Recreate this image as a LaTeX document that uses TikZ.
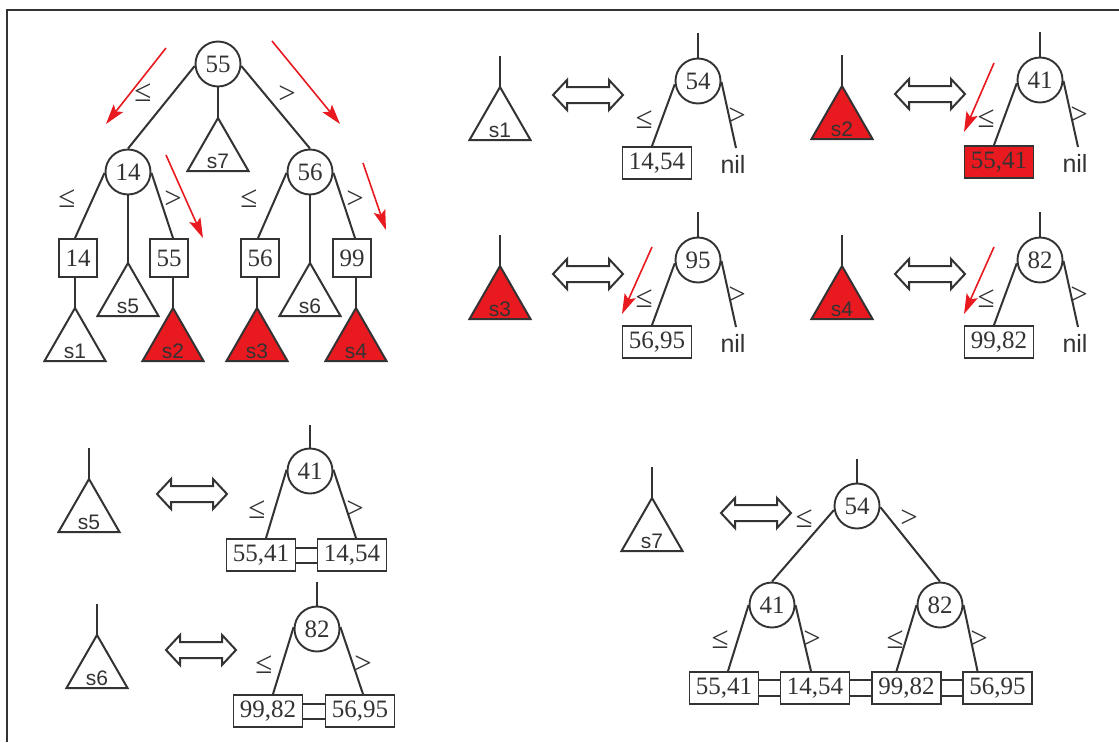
\documentclass[tikz,border=0pt]{standalone}
\usepackage{fontspec}
\setmainfont{Liberation Serif}
\newfontfamily\sansfam{Liberation Sans}
\usetikzlibrary{arrows.meta,calc}
\definecolor{dk}{HTML}{333333}
\definecolor{rd}{HTML}{E8191F}
\newcommand{\numfont}{\fontsize{25}{28}\selectfont}
\newcommand{\labfont}{\fontsize{31}{34}\selectfont}
\newcommand{\slabfont}{\sansfam\fontsize{21}{23}\selectfont}
\newcommand{\nilfont}{\sansfam\fontsize{25}{27}\selectfont}
\tikzset{
  ln/.style={draw=dk,line width=2pt},
  circ/.style={circle,draw=dk,line width=1.9pt,minimum size=45pt,inner sep=0pt,font=\numfont,text=dk},
  sbox/.style={rectangle,draw=dk,line width=1.9pt,minimum width=38pt,minimum height=38pt,inner sep=0pt,font=\numfont,text=dk},
  wbox/.style={rectangle,draw=dk,line width=1.9pt,minimum width=69pt,minimum height=32pt,inner sep=0pt,font=\numfont,text=dk},
  lab/.style={inner sep=0pt,font=\labfont,text=dk},
  nilnode/.style={inner sep=0pt,outer sep=0pt,anchor=north,font=\nilfont,text=dk},
  slab/.style={inner sep=0pt,anchor=base,font=\slabfont,text=dk},
  redarr/.style={draw=rd,line width=1.6pt,-{Stealth[length=20pt,width=12pt,inset=4pt]}},
  dblarrow/.pic={\draw[ln] (0,0) -- (14,-15) -- (14,-8) -- (56,-8) -- (56,-15) -- (70,0) -- (56,15) -- (56,8) -- (14,8) -- (14,15) -- cycle;}
}
% name, x, y (apex), label, fill
\newcommand{\subtree}[5]{%
  \coordinate (#1) at (#2,#3);
  \draw[ln,fill=#5] (#1) -- (#2-30.5,#3+53) -- (#2+30.5,#3+53) -- cycle;
  \node[slab] (#1-l) at (#2,#3+50) {#4};}
% prefix, dx, dy, sub label, tri fill, circle num, box text, box fill
\newcommand{\panel}[8]{%
  \coordinate (#1S1) at (500+#2,56+#3);
  \subtree{#1T}{500+#2}{87+#3}{#4}{#5}
  \draw[ln] (#1S1) -- (#1T);
  \pic (#1D) at (553+#2,95+#3) {dblarrow};
  \coordinate (#1S2) at (698+#2,33+#3);
  \node[circ] (#1C) at (698+#2,81+#3) {#6};
  \draw[ln] (#1S2) -- (#1C.north);
  \node[wbox,fill=#8] (#1B) at (657+#2,163+#3) {#7};
  \node[nilnode] (#1N) at (733+#2,155+#3) {nil};
  \draw[ln] (#1C.188) -- ([xshift=-5pt]#1B.north);
  \draw[ln] (#1C.-2) -- ([shift={(3pt,7pt)}]#1N.north);
  \node[lab] (#1L1) at (644+#2,120+#3) {≤};
  \node[lab] (#1L2) at (737+#2,117+#3) {>};}
\begin{document}
\begin{tikzpicture}[x=1pt,y=-1pt]
\useasboundingbox (0,0) rectangle (1119,742);
\fill[white] (0,0) rectangle (1119,742);
\draw[dk,line width=2.3pt] (7,742) -- (7,10) -- (1119,10);

% ---- main tree ----
\node[circ] (r55) at (218,64) {55};
\node[circ] (r14) at (128,172) {14};
\node[circ] (r56) at (310,172) {56};
\node[sbox] (b14) at (78,258) {14};
\node[sbox] (b55) at (169,258) {55};
\node[sbox] (b56) at (260,258) {56};
\node[sbox] (b99) at (352,258) {99};
\subtree{t7}{218}{118}{s7}{white}
\subtree{t5}{128}{263}{s5}{white}
\subtree{t6}{310}{263}{s6}{white}
\subtree{t1}{75}{308}{s1}{white}
\subtree{t2}{173}{308}{s2}{rd}
\subtree{t3}{257}{308}{s3}{rd}
\subtree{t4}{356}{308}{s4}{rd}
\draw[ln] (r55.185) -- (r14.north);
\draw[ln] (r55.-5) -- (r56.north);
\draw[ln] (r55.south) -- (t7);
\draw[ln] (r14.182) -- ([xshift=-3pt]b14.north);
\draw[ln] (r14.south) -- (t5);
\draw[ln] (r14.-2) -- ([xshift=4pt]b55.north);
\draw[ln] (r56.182) -- ([xshift=-2pt]b56.north);
\draw[ln] (r56.south) -- (t6);
\draw[ln] (r56.-2) -- ([xshift=3pt]b99.north);
\draw[ln] (b14.south -| t1) -- (t1);
\draw[ln] (b55.south -| t2) -- (t2);
\draw[ln] (b56.south -| t3) -- (t3);
\draw[ln] (b99.south -| t4) -- (t4);
\node[lab] (m1) at (143,93) {≤};
\node[lab] (m2) at (287,95) {>};
\node[lab] (m3) at (67,199) {≤};
\node[lab] (m4) at (173,200) {>};
\node[lab] (m5) at (249,199) {≤};
\node[lab] (m6) at (355,200) {>};
\coordinate (ra1) at (166,48);  \coordinate (rb1) at (106,124);
\coordinate (ra2) at (272,41);  \coordinate (rb2) at (340,124);
\coordinate (ra3) at (166,155); \coordinate (rb3) at (203,238);
\coordinate (ra4) at (363,163); \coordinate (rb4) at (386,230);
\draw[redarr] (ra1) -- (rb1);
\draw[redarr] (ra2) -- (rb2);
\draw[redarr] (ra3) -- (rb3);
\draw[redarr] (ra4) -- (rb4);

% ---- four small panels ----
\panel{pa}{0}{0}{s1}{white}{54}{14,54}{white}
\panel{pb}{342}{-1}{s2}{rd}{41}{55,41}{rd}
\panel{pc}{0}{179}{s3}{rd}{95}{56,95}{white}
\panel{pd}{342}{179}{s4}{rd}{82}{99,82}{white}
\coordinate (ra5) at (994,63);  \coordinate (rb5) at (964,132);
\coordinate (ra6) at (652,247); \coordinate (rb6) at (622,314);
\coordinate (ra7) at (994,247); \coordinate (rb7) at (964,314);
\draw[redarr] (ra5) -- (rb5);
\draw[redarr] (ra6) -- (rb6);
\draw[redarr] (ra7) -- (rb7);

% ---- panel s5 ----
\coordinate (eS1) at (89,448);
\subtree{eT}{89}{479}{s5}{white}
\draw[ln] (eS1) -- (eT);
\pic (eD) at (157,494) {dblarrow};
\coordinate (eS2) at (310,425);
\node[circ] (eC) at (310,471) {41};
\draw[ln] (eS2) -- (eC.north);
\node[wbox] (eB1) at (261,555) {55,41};
\node[wbox] (eB2) at (352,555) {14,54};
\draw[ln] ([yshift=7.5pt]eB1.east) -- ([yshift=7.5pt]eB2.west);
\draw[ln] ([yshift=-7.5pt]eB1.east) -- ([yshift=-7.5pt]eB2.west);
\draw[ln] (eC.177) -- ([xshift=5pt]eB1.north);
\draw[ln] (eC.3) -- ([xshift=4pt]eB2.north);
\node[lab] (eL1) at (257,510) {≤};
\node[lab] (eL2) at (355,510) {>};

% ---- panel s6 ----
\coordinate (fS1) at (97,604);
\subtree{fT}{97}{635}{s6}{white}
\draw[ln] (fS1) -- (fT);
\pic (fD) at (166,650) {dblarrow};
\coordinate (fS2) at (317,582);
\node[circ] (fC) at (317,629) {82};
\draw[ln] (fS2) -- (fC.north);
\node[wbox] (fB1) at (268,711) {99,82};
\node[wbox] (fB2) at (360,711) {56,95};
\draw[ln] ([yshift=7.5pt]fB1.east) -- ([yshift=7.5pt]fB2.west);
\draw[ln] ([yshift=-7.5pt]fB1.east) -- ([yshift=-7.5pt]fB2.west);
\draw[ln] (fC.175) -- ([xshift=5pt]fB1.north);
\draw[ln] (fC.5) -- ([xshift=3pt]fB2.north);
\node[lab] (fL1) at (264,665) {≤};
\node[lab] (fL2) at (363,665) {>};

% ---- panel s7 ----
\coordinate (gS1) at (652,467);
\subtree{gT}{652}{498}{s7}{white}
\draw[ln] (gS1) -- (gT);
\pic (gD) at (721,513) {dblarrow};
\coordinate (gS2) at (857,459);
\node[circ] (gC) at (857,506) {54};
\draw[ln] (gS2) -- (gC.north);
\node[circ] (gL) at (772,605) {41};
\node[circ] (gR) at (940,605) {82};
\draw[ln] (gC.190) -- (gL.north);
\draw[ln] (gC.-3) -- (gR.north);
\node[wbox] (gB1) at (724,688) {55,41};
\node[wbox] (gB2) at (815,688) {14,54};
\node[wbox] (gB3) at (906.5,688) {99,82};
\node[wbox] (gB4) at (997.5,688) {56,95};
\foreach \a/\b in {gB1/gB2,gB2/gB3,gB3/gB4}{
  \draw[ln] ([yshift=8pt]\a.east) -- ([yshift=8pt]\b.west);
  \draw[ln] ([yshift=-8pt]\a.east) -- ([yshift=-8pt]\b.west);}
\draw[ln] (gL.180) -- ([xshift=4pt]gB1.north);
\draw[ln] (gL.0) -- ([xshift=-4pt]gB2.north);
\draw[ln] (gR.180) -- ([xshift=-10pt]gB3.north);
\draw[ln] (gR.0) -- ([xshift=-20pt]gB4.north);
\node[lab] (gL1) at (804,519) {≤};
\node[lab] (gL2) at (909,519) {>};
\node[lab] (gL3) at (720,640) {≤};
\node[lab] (gL4) at (812,640) {>};
\node[lab] (gL5) at (895,640) {≤};
\node[lab] (gL6) at (979,640) {>};
\end{tikzpicture}
\end{document}
